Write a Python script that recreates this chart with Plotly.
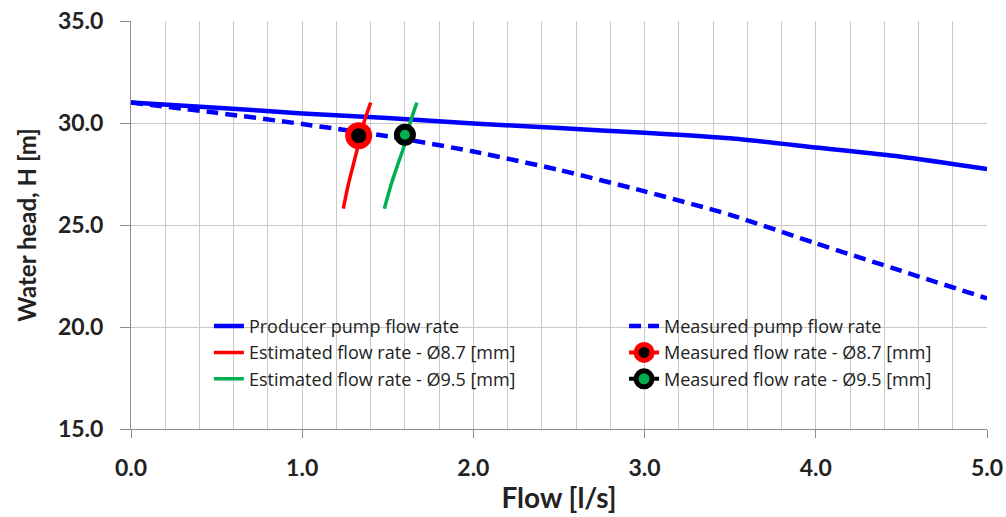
import plotly.graph_objects as go

# ---- data ----
flow_grid = [0.0, 0.5, 1.0, 1.5, 2.0, 2.5, 3.0, 3.5, 4.0, 4.5, 5.0]
producer_head = [31.0, 30.75, 30.47, 30.25, 29.98, 29.75, 29.52, 29.25, 28.8, 28.35, 27.75]
measured_pump_head = [31.0, 30.5, 29.95, 29.35, 28.6, 27.7, 26.65, 25.5, 24.1, 22.75, 21.4]

est87_flow = [1.24, 1.27, 1.30, 1.33, 1.36, 1.40]
est87_head = [25.8, 27.0, 28.0, 29.0, 30.0, 31.0]
est95_flow = [1.48, 1.52, 1.56, 1.60, 1.63, 1.67]
est95_head = [25.8, 27.0, 28.0, 29.0, 30.0, 31.0]

meas87_flow = [1.33]
meas87_head = [29.38]
meas95_flow = [1.60]
meas95_head = [29.42]

x_ticks = [0, 1, 2, 3, 4, 5]
y_ticks = [15, 20, 25, 30, 35]

BLUE = "#0000ff"
RED = "#ff0000"
GREEN = "#00b050"
GRID = "#c9c9c9"
AXIS = "#8c8c8c"
TXT = "#222222"
FONT = "Lato"
LFONT = "Open Sans"

fig = go.Figure()
fig.add_trace(go.Scatter(x=flow_grid, y=producer_head, mode="lines",
                         name="Producer pump flow rate", legend="legend",
                         line=dict(color=BLUE, width=4.5, shape="spline", smoothing=0.6)))
fig.add_trace(go.Scatter(x=flow_grid, y=measured_pump_head, mode="lines",
                         name="Measured pump flow rate", legend="legend2",
                         line=dict(color=BLUE, width=4.5, dash="12px,7px",
                                   shape="spline", smoothing=0.6)))
fig.add_trace(go.Scatter(x=est87_flow, y=est87_head, mode="lines",
                         name="Estimated flow rate - Ø8.7 [mm]", legend="legend",
                         line=dict(color=RED, width=3.5, shape="spline")))
fig.add_trace(go.Scatter(x=meas87_flow, y=meas87_head, mode="lines+markers",
                         name="Measured flow rate - Ø8.7 [mm]", legend="legend2",
                         line=dict(color=RED, width=4),
                         marker=dict(color="black", size=21,
                                     line=dict(color=RED, width=6))))
fig.add_trace(go.Scatter(x=est95_flow, y=est95_head, mode="lines",
                         name="Estimated flow rate - Ø9.5 [mm]", legend="legend",
                         line=dict(color=GREEN, width=3.5, shape="spline")))
fig.add_trace(go.Scatter(x=meas95_flow, y=meas95_head, mode="lines+markers",
                         name="Measured flow rate - Ø9.5 [mm]", legend="legend2",
                         line=dict(color="black", width=4),
                         marker=dict(color=GREEN, size=16,
                                     line=dict(color="black", width=6))))

legend_common = dict(
    orientation="v", yanchor="top", xanchor="left",
    bgcolor="rgba(255,255,255,0)", borderwidth=0,
    font=dict(family=LFONT, size=18, color=TXT),
    tracegroupgap=0,
)

fig.update_layout(
    width=1006, height=517,
    margin=dict(l=131, r=19, t=21, b=88),
    paper_bgcolor="white", plot_bgcolor="white",
    font=dict(family=FONT, color=TXT),
    showlegend=True,
    legend=dict(x=0.091, y=0.297, **legend_common),
    legend2=dict(x=0.576, y=0.297, **legend_common),
    shapes=[dict(type="rect", xref="paper", yref="paper",
                 x0=0.04, x1=0.986, y0=0.071, y1=0.287,
                 fillcolor="white", line=dict(width=0), layer="between")],
    xaxis=dict(
        range=[0, 5], tickvals=x_ticks, tickformat=".1f",
        showgrid=True, gridcolor=GRID, gridwidth=1,
        showline=True, linecolor=AXIS, linewidth=1,
        ticks="outside", ticklen=8, tickcolor=AXIS,
        ticklabelstandoff=10, ticklabeloverflow="allow",
        tickfont=dict(family=FONT, size=23, color=TXT, weight="bold"),
        minor=dict(dtick=0.2, showgrid=True, gridcolor=GRID, gridwidth=1, ticks=""),
        title=dict(text="<b>Flow [l/s]</b>", font=dict(family=FONT, size=28, color=TXT),
                   standoff=8),
        zeroline=False, automargin=False,
    ),
    yaxis=dict(
        range=[15, 35], tickvals=y_ticks, tickformat=".1f",
        showgrid=True, gridcolor=GRID, gridwidth=1,
        showline=True, linecolor=AXIS, linewidth=1,
        ticks="outside", ticklen=10, tickcolor=AXIS,
        ticklabelstandoff=12, ticklabeloverflow="allow",
        tickfont=dict(family=FONT, size=23, color=TXT, weight="bold"),
        title=dict(text="<b>Water head, H [m]</b>", font=dict(family=FONT, size=24, color=TXT),
                   standoff=14),
        zeroline=False, automargin=False,
    ),
)

# remove the browser's default 8px page margin so the figure fills the window
fig.write_html("out.html",
               config={"displayModeBar": False},
               post_script="document.body.style.margin='0';document.body.style.overflow='hidden';")
